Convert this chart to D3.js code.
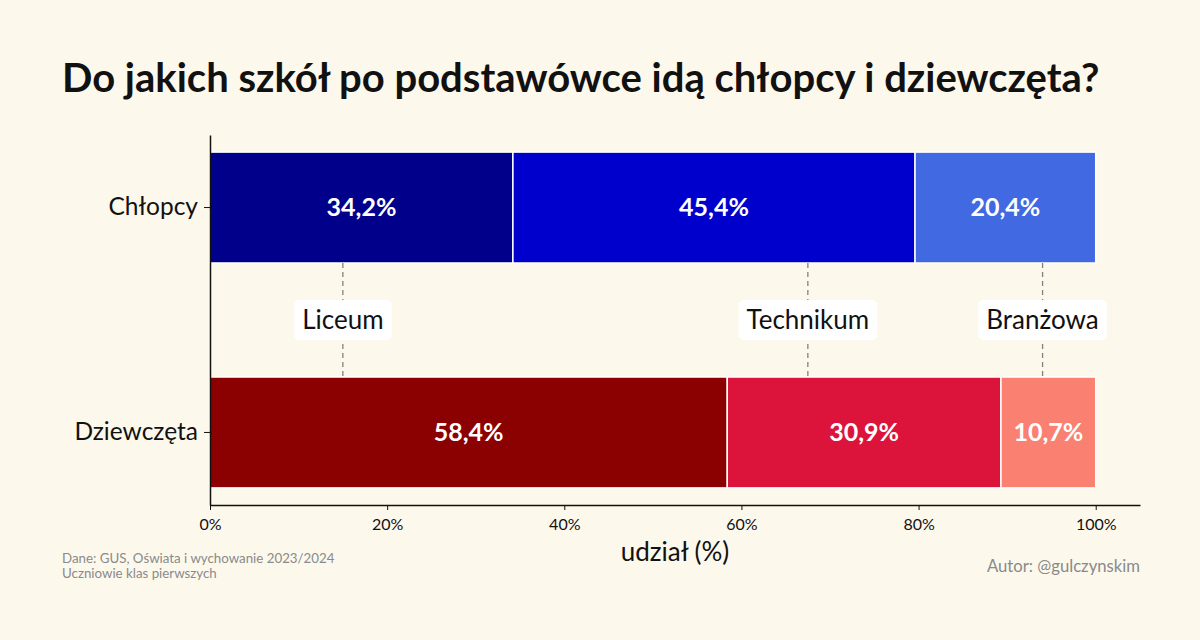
<!DOCTYPE html>
<html>
<head>
<meta charset="utf-8">
<script src="https://cdn.jsdelivr.net/npm/d3@7"></script>
<style>
  html, body { margin: 0; padding: 0; background: #fdf8ec; }
  svg { display: block; font-family: Lato, 'Noto Sans', sans-serif; }
</style>
</head>
<body>
<div id="chart"></div>
<script>
const groups = ['Chłopcy', 'Dziewczęta'];
const schools = ['Liceum', 'Technikum', 'Branżowa'];
const boysShare = [34.2, 45.4, 20.4];
const girlsShare = [58.4, 30.9, 10.7];
const labelPos = [15, 67.5, 94];
const xTicks = [0, 20, 40, 60, 80, 100];
const boysColors = ['#00008b', '#0000cd', '#4169e1'];
const girlsColors = ['#8b0000', '#dc143c', '#fa8072'];

const width = 1200, height = 640;
const margin = { top: 135, right: 60, bottom: 135, left: 210 };

const svg = d3.select('#chart').append('svg')
  .attr('width', width)
  .attr('height', height);

svg.append('rect').attr('width', width).attr('height', height).attr('fill', '#fdf8ec');

const x = d3.scaleLinear().domain([0, 105]).range([margin.left, width - margin.right]);
const y = d3.scaleBand().domain(groups)
  .range([margin.top, height - margin.bottom])
  .paddingInner(0.507)
  .paddingOuter(0.076);

const rows = [
  { group: groups[0], values: boysShare, colors: boysColors },
  { group: groups[1], values: girlsShare, colors: girlsColors }
];

const fmt = v => d3.format('.1f')(v).replace('.', ',') + '%';

rows.forEach(row => {
  let acc = 0;
  const segs = row.values.map((v, i) => {
    const s = { start: acc, end: acc + v, value: v, color: row.colors[i] };
    acc += v;
    return s;
  });
  const g = svg.append('g');
  g.selectAll('rect').data(segs).enter().append('rect')
    .attr('x', d => x(d.start))
    .attr('y', y(row.group))
    .attr('width', d => x(d.end) - x(d.start))
    .attr('height', y.bandwidth())
    .attr('fill', d => d.color)
    .attr('stroke', '#fff')
    .attr('stroke-width', 1.5);
  g.selectAll('text').data(segs).enter().append('text')
    .attr('x', d => x((d.start + d.end) / 2))
    .attr('y', y(row.group) + y.bandwidth() / 2)
    .attr('dy', '0.35em')
    .attr('text-anchor', 'middle')
    .attr('fill', '#fff')
    .attr('font-weight', 'bold')
    .attr('font-size', 25)
    .text(d => fmt(d.value));
});

// dashed connectors + labels
const gapTop = y(groups[0]) + y.bandwidth();
const gapBottom = y(groups[1]);
const gapMid = (gapTop + gapBottom) / 2;

labelPos.forEach((p, i) => {
  svg.append('line')
    .attr('x1', x(p)).attr('x2', x(p))
    .attr('y1', gapTop).attr('y2', gapBottom)
    .attr('stroke', '#808080')
    .attr('stroke-width', 1.3)
    .attr('stroke-dasharray', '5,4');
  const t = svg.append('text')
    .attr('x', x(p))
    .attr('y', gapMid)
    .attr('dy', '0.35em')
    .attr('text-anchor', 'middle')
    .attr('font-size', 26)
    .attr('fill', '#111')
    .text(schools[i]);
  const bb = t.node().getBBox();
  svg.insert('rect', () => t.node())
    .attr('x', bb.x - 8)
    .attr('y', gapMid - 20)
    .attr('width', bb.width + 16)
    .attr('height', 40)
    .attr('rx', 5)
    .attr('fill', '#fff');
});

// axes
const xAxis = svg.append('g')
  .attr('transform', `translate(0,${height - margin.bottom})`)
  .call(d3.axisBottom(x).tickValues(xTicks).tickFormat(d => d + '%').tickSize(5).tickSizeOuter(0));
xAxis.select('.domain').attr('stroke', '#111').attr('stroke-width', 1.5);
xAxis.selectAll('.tick line').attr('stroke', '#111');
xAxis.selectAll('text').attr('font-size', 16).attr('fill', '#111').attr('font-family', 'Lato').attr('dy', '1.05em');

const yAxis = svg.append('g')
  .attr('transform', `translate(${margin.left},0)`)
  .call(d3.axisLeft(y).tickSize(6).tickSizeOuter(0));
yAxis.select('.domain').attr('stroke', '#111').attr('stroke-width', 1.5);
yAxis.selectAll('.tick line').attr('stroke', '#111');
yAxis.selectAll('text').attr('font-size', 24.5).attr('fill', '#111').attr('font-family', 'Lato').attr('x', -12);

// titles and notes
svg.append('text')
  .attr('x', 62).attr('y', 92)
  .attr('font-size', 40)
  .attr('font-weight', 'bold')
  .attr('fill', '#111')
  .text('Do jakich szkół po podstawówce idą chłopcy i dziewczęta?');

svg.append('text')
  .attr('x', (x(0) + x(105)) / 2).attr('y', 561)
  .attr('text-anchor', 'middle')
  .attr('font-size', 26)
  .attr('fill', '#111')
  .text('udział (%)');

svg.append('text')
  .attr('x', 62).attr('y', 563)
  .attr('font-size', 13.3)
  .attr('fill', '#8a8a8a')
  .text('Dane: GUS, Oświata i wychowanie 2023/2024');
svg.append('text')
  .attr('x', 62).attr('y', 578)
  .attr('font-size', 13.3)
  .attr('fill', '#8a8a8a')
  .text('Uczniowie klas pierwszych');

svg.append('text')
  .attr('x', width - margin.right).attr('y', 572)
  .attr('text-anchor', 'end')
  .attr('font-size', 16.7)
  .attr('fill', '#8a8a8a')
  .text('Autor: @gulczynskim');
</script>
</body>
</html>
